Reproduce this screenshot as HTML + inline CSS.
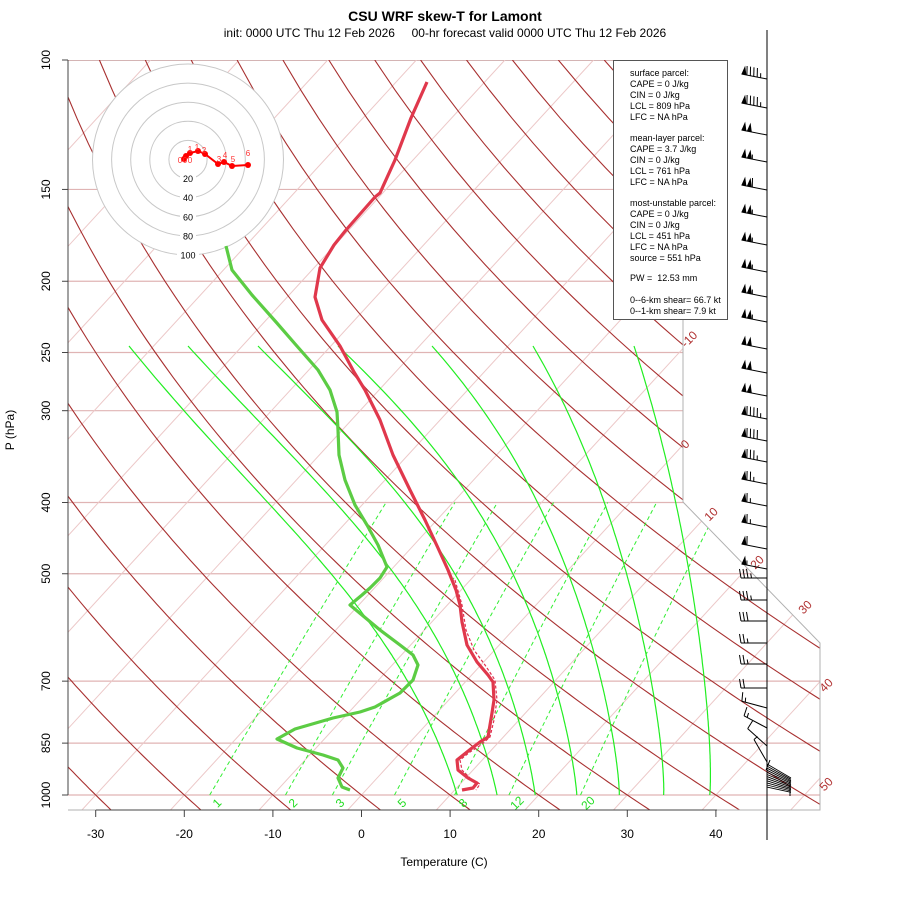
<!DOCTYPE html>
<html><head><meta charset="utf-8">
<style>
html,body{margin:0;padding:0;background:#fff;}
svg{display:block;font-family:"Liberation Sans",sans-serif;}
text{white-space:pre;}
</style></head>
<body>
<svg id="s" width="900" height="900" viewBox="0 0 900 900" xmlns="http://www.w3.org/2000/svg">
<defs>
<clipPath id="plot"><polygon points="68,60 683,60 683,502 820,643 820,810 68,810"/></clipPath>
</defs>
<rect width="900" height="900" fill="#fff"/>
<g id="bg" clip-path="url(#plot)"></g>
<g id="fg"></g>
</svg>
<script>
(function(){
var NS="http://www.w3.org/2000/svg";
var bg=document.getElementById('bg'), fg=document.getElementById('fg');
function el(parent,tag,attrs,text){var e=document.createElementNS(NS,tag);for(var k in attrs)e.setAttribute(k,attrs[k]);if(text!==undefined)e.textContent=text;parent.appendChild(e);return e;}
function L(p){return Math.log(p)/Math.LN10;}
function Y(p){return 60+735*L(p/100);}
function X(T,p){return 361.5+8.86*T+675*L(1000/p);}
function poly(parent,pts,attrs){var s=pts.map(function(q){return q[0].toFixed(1)+','+q[1].toFixed(1);}).join(' ');attrs.points=s;attrs.fill='none';return el(parent,'polyline',attrs);}
[100,150,200,250,300,400,500,700,850,1000].forEach(function(p){
  el(bg,'line',{x1:68,x2:820,y1:Y(p),y2:Y(p),stroke:p==100?'#b88':'#e0b4b4','stroke-width':1.2});
});
for(var T=-140;T<=60;T+=10){
  el(bg,'line',{x1:X(T,1100),y1:Y(1100),x2:X(T,100),y2:Y(100),stroke:'#ecc8c8','stroke-width':1});
}
for(var th=-50;th<=220;th+=10){
  var pts=[];for(var p=1100;p>=100;p-=10){var t=(th+273.15)*Math.pow(p/1000,0.2857)-273.15;pts.push([X(t,p),Y(p)]);}
  poly(bg,pts,{stroke:'#a83030','stroke-width':1.1});
}
function es(tc){return 6.112*Math.exp(17.67*tc/(tc+243.5));}
function dTdp(T,p){var tc=T-273.15;var e=es(tc);var rs=0.622*e/(p-e);var Rd=287.04,cp=1005.7,Lv=2.501e6;
  return (Rd*T+Lv*rs)/(p*(cp+Lv*Lv*rs*0.622/(Rd*T*T)));}
var tops=[129,188,258,338,432,533,634];
[10.8,15.3,19.6,24.3,29.1,34.1,39.3].forEach(function(t0,idx){
  var T=t0+273.15,p=1000,pts=[[X(t0,p),Y(p)]];var dp=-1;
  while(p>242){var k1=dTdp(T,p),k2=dTdp(T+k1*dp/2,p+dp/2),k3=dTdp(T+k2*dp/2,p+dp/2),k4=dTdp(T+k3*dp,p+dp);
    T+=dp*(k1+2*k2+2*k3+k4)/6;p+=dp;if(Math.round(p)%5==0)pts.push([X(T-273.15,p),Y(p)]);}
  var last=pts[pts.length-1];var y0=pts[0][1],y1=last[1];var corr=tops[idx]-last[0];
  pts=pts.map(function(q){var f=(y0-q[1])/(y0-y1);return [q[0]+corr*Math.pow(f,1.3),q[1]];});
  poly(bg,pts,{stroke:'#22ee22','stroke-width':1.2});
});
[1,2,3,5,8,12,20].forEach(function(w){
  var pts=[];for(var p=1000;p>=400;p-=10){var e=w*p/(622+w);var lg=Math.log(e/6.112);var td=243.5*lg/(17.67-lg);pts.push([X(td,p),Y(p)]);}
  poly(bg,pts,{stroke:'#33ee33','stroke-width':1,'stroke-dasharray':'4,3'});
});
el(fg,'polyline',{points:'683,60 683,502 820,643 820,810 68,810',fill:'none',stroke:'#b0b0b0','stroke-width':1});
var hc=[188,159.5];
el(fg,'circle',{cx:hc[0],cy:hc[1],r:95.5,fill:'#fff',stroke:'none'});
[1,2,3,4,5].forEach(function(i){el(fg,'circle',{cx:hc[0],cy:hc[1],r:19.1*i,fill:'none',stroke:'#c8c8c8','stroke-width':1});});
[1,2,3,4,5].forEach(function(i){var y=hc[1]+19.1*i;var t=String(20*i);
  el(fg,'rect',{x:hc[0]-(t.length*3+2),y:y-5,width:t.length*6+4,height:10,fill:'#fff'});
  el(fg,'text',{x:hc[0],y:y+3.5,'font-size':9,'text-anchor':'middle',fill:'#000'},t);});
var hp=[[184,159],[186,156],[190,153],[198,151],[205,154],[218,164],[224,162],[232,166],[248,165]];
poly(fg,hp,{stroke:'#ff0000','stroke-width':2});
hp.forEach(function(q){el(fg,'circle',{cx:q[0],cy:q[1],r:3,fill:'#ff0000'});});
[["0",180,163],["0",185,163],["0",190,163],["1",190,152],["1",197,150],["2",204,153],["3",219,162],["4",225,158],["5",233,162],["6",248,156]].forEach(function(a){
  el(fg,'text',{x:a[1],y:a[2],'font-size':8,'text-anchor':'middle',fill:'#ff3030'},a[0]);});
var dew=[[226,246],[232,270],[252,295],[276,322],[296,345],[318,370],[330,390],[337,412],[338,430],[339,455],[345,480],[355,505],[367,525],[378,545],[387,567],[380,578],[370,588],[362,595],[350,605],[362,615],[380,630],[400,645],[413,655],[418,665],[413,680],[400,693],[375,707],[360,712],[333,718],[295,729],[277,739],[297,748],[323,755],[338,760],[343,768],[338,778],[342,787],[350,790]];
poly(fg,dew,{stroke:'#5ccc44','stroke-width':3.2,'stroke-linejoin':'round'});
poly(fg,[[455,580],[462,605],[466,630],[474,650],[485,665],[495,680],[497,700],[494,720],[490,737],[481,745],[470,752],[460,760],[462,770],[470,778],[480,784],[476,790]],{stroke:'#e03050','stroke-width':1.2,'stroke-dasharray':'3,2'});
var tem=[[427,82],[411,118],[395,160],[380,193],[375,197],[346,230],[334,245],[320,268],[315,297],[322,320],[340,346],[354,372],[365,390],[380,420],[393,455],[410,490],[425,520],[438,548],[448,570],[456,590],[460,605],[462,622],[467,645],[477,662],[488,675],[493,682],[494,700],[492,713],[488,737],[480,742],[472,748],[457,760],[458,770],[468,778],[477,783],[473,788],[462,790]];
poly(fg,tem,{stroke:'#e0384c','stroke-width':3.2,'stroke-linejoin':'round'});
[["-10",692,342],["0",688,447],["10",714,517],["20",760,565],["30",808,610],["40",829,688],["50",829,787]].forEach(function(a){
  el(fg,'text',{x:a[1],y:a[2],'font-size':12,fill:'#b03030','text-anchor':'middle',transform:'rotate(-45 '+a[1]+' '+a[2]+')'},a[0]);});
[["1",217,803],["2",293,803],["3",340,803],["5",402,803],["8",463,803],["12",517,803],["20",588,803]].forEach(function(a){
  el(fg,'text',{x:a[1],y:a[2]+4,'font-size':12,fill:'#22dd22','text-anchor':'middle',transform:'rotate(-45 '+a[1]+' '+a[2]+')'},a[0]);});
el(fg,'line',{x1:68,y1:60,x2:68,y2:795,stroke:'#444','stroke-width':1});
[100,150,200,250,300,400,500,700,850,1000].forEach(function(p){var y=Y(p);
  el(fg,'line',{x1:62,x2:68,y1:y,y2:y,stroke:'#444'});
  el(fg,'text',{x:50,y:y,'font-size':12,'text-anchor':'middle',transform:'rotate(-90 50 '+y+')'},String(p));});
el(fg,'text',{x:14,y:430,'font-size':12,'text-anchor':'middle',transform:'rotate(-90 14 430)'},'P (hPa)');
el(fg,'line',{x1:96,y1:810,x2:717,y2:810,stroke:'#444'});
for(var t=-30;t<=40;t+=10){var x=361.5+8.86*t;el(fg,'line',{x1:x,x2:x,y1:810,y2:817,stroke:'#444'});
  el(fg,'text',{x:x,y:838,'font-size':12,'text-anchor':'middle'},String(t));}
el(fg,'text',{x:444,y:866,'font-size':12,'text-anchor':'middle'},'Temperature (C)');
el(fg,'text',{x:445,y:21,'font-size':14,'font-weight':'bold','text-anchor':'middle'},'CSU WRF skew-T for Lamont');
el(fg,'text',{x:445,y:37,'font-size':12,'text-anchor':'middle'},'init: 0000 UTC Thu 12 Feb 2026     00-hr forecast valid 0000 UTC Thu 12 Feb 2026');
el(fg,'rect',{x:613.5,y:60.5,width:114,height:259,fill:'#fff',stroke:'#555','stroke-width':1});
[["surface parcel:",76],["CAPE = 0 J/kg",87],["CIN = 0 J/kg",98],["LCL = 809 hPa",109],["LFC = NA hPa",120],
 ["mean-layer parcel:",141],["CAPE = 3.7 J/kg",152],["CIN = 0 J/kg",163],["LCL = 761 hPa",174],["LFC = NA hPa",185],
 ["most-unstable parcel:",206],["CAPE = 0 J/kg",217],["CIN = 0 J/kg",228],["LCL = 451 hPa",239],["LFC = NA hPa",250],["source = 551 hPa",261],
 ["PW =  12.53 mm",281],["0--6-km shear= 66.7 kt",303],["0--1-km shear= 7.9 kt",314]].forEach(function(a){
  el(fg,'text',{x:630,y:a[1],'font-size':9},a[0]);});
el(fg,'line',{x1:767,y1:30,x2:767,y2:840,stroke:'#000','stroke-width':1});
function barb(by,ang,f,n,h,len){len=len||26;var a=ang*Math.PI/180,dx=Math.cos(a),dy=Math.sin(a);var nx=-dy,ny=dx;
  var bx=767,tx=bx+dx*len,ty=by+dy*len;
  el(fg,'line',{x1:bx,y1:by,x2:tx,y2:ty,stroke:'#000','stroke-width':1});
  var s=0;
  for(var i=0;i<f;i++){var px=tx-dx*s,py=ty-dy*s;
    el(fg,'polygon',{points:px+','+py+' '+(px+nx*9-dx*2)+','+(py+ny*9-dy*2)+' '+(px-dx*5)+','+(py-dy*5),fill:'#000'});s+=5.5;}
  for(var j=0;j<n;j++){var px=tx-dx*s,py=ty-dy*s;el(fg,'line',{x1:px,y1:py,x2:px+nx*9+dx*1.5,y2:py+ny*9+dy*1.5,stroke:'#000','stroke-width':1});s+=3.5;}
  for(var k=0;k<h;k++){var px=tx-dx*s,py=ty-dy*s;el(fg,'line',{x1:px,y1:py,x2:px+nx*4.5+dx*0.8,y2:py+ny*4.5+dy*0.8,stroke:'#000','stroke-width':1});}
}
[[75,1,4,1],[104,1,4,1],[131,2,0,0],[158,2,0,1],[186,2,1,0],[213,2,0,1],[241,2,0,1],[268,2,0,1],[293,2,0,1],[318,2,0,1],[345,2,0,0],[369,2,0,0],[392,2,0,0],[415,1,4,1],[437,1,4,0],[458,1,3,1],[480,1,2,1],[502,1,1,1],[523,1,1,1],[545,1,1,0],[565,1,0,1]].forEach(function(r){barb(r[0]+4,191,r[1],r[2],r[3]);});
[[578,0,3,1],[600,0,3,1],[621,0,3,0],[643,0,2,1],[664,0,2,1],[688,0,2,0],[708,0,1,1,195],[728,0,1,1,208],[746,0,1,0,222],[762,0,0,1,240]].forEach(function(r){barb(r[0],r[4]||180,r[1],r[2],r[3]);});
for(var i=0;i<12;i++){var y0=764+2.1*i,y1=778+1.3*i;
  el(fg,'line',{x1:767,y1:y0,x2:791,y2:y1,stroke:'#000','stroke-width':0.9});}
el(fg,'line',{x1:790,y1:780,x2:790,y2:796,stroke:'#000'});
el(fg,'line',{x1:766,y1:770,x2:770,y2:760,stroke:'#000'});
})();
</script>
</body></html>
